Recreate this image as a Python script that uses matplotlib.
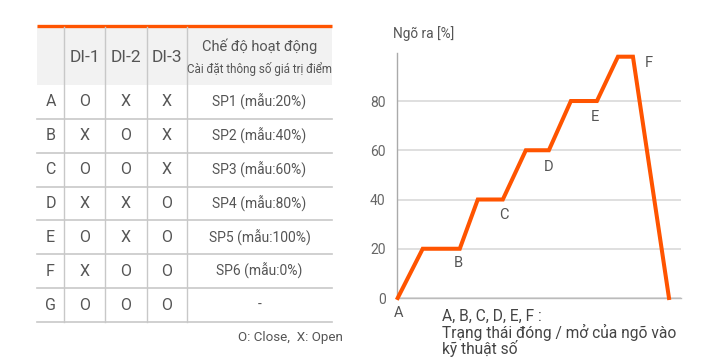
import matplotlib
matplotlib.use("Agg")
import matplotlib.pyplot as plt

plt.rcParams['font.family'] = ['Roboto', 'DejaVu Sans']

# --- table data ---
ROW_KEYS = ["A", "B", "C", "D", "E", "F", "G"]
DI1 = ["O", "X", "O", "X", "O", "X", "O"]
DI2 = ["X", "O", "O", "X", "X", "O", "O"]
DI3 = ["X", "X", "X", "O", "O", "O", "O"]
MODES = ["SP1 (mẫu:20%)", "SP2 (mẫu:40%)", "SP3 (mẫu:60%)", "SP4 (mẫu:80%)",
         "SP5 (mẫu:100%)", "SP6 (mẫu:0%)", "-"]
HEADERS = ["DI-1", "DI-2", "DI-3"]

# --- chart data (step profile) ---
T = [1, 26, 63, 81, 106, 129, 152, 174, 200, 221, 236, 272]
OUT = [0, 20, 20, 40, 40, 60, 60, 80, 80, 98, 98, 0]
Y_TICKS = [0, 20, 40, 60, 80]
PT_LABELS = ["A", "B", "C", "D", "E", "F"]
PT_IDX = [0, 2, 4, 6, 8, 10]

ORANGE = "#ff5400"
GRID = "#d9d9d9"
TXT = "#555555"

fig = plt.figure(figsize=(7.2, 3.6), dpi=100)

# ---------- table drawn in pixel coords ----------
tab = fig.add_axes([0, 0, 1, 1])
tab.set_xlim(0, 720)
tab.set_ylim(360, 0)
tab.axis("off")

x0, x1 = 37, 332
cols = [37, 64, 105, 147, 187, 332]
top, head_bot = 25.5, 85
row_h = (322 - head_bot) / len(ROW_KEYS)

tab.fill_between([x0, x1], top, head_bot, color="#f2f2f2", lw=0)
tab.plot([x0, x1], [top, top], color=ORANGE, lw=2.4, solid_capstyle="butt")
for cx in cols[1:5]:
    tab.plot([cx, cx], [top + 1, 322], color="#c8c8c8", lw=1.0)
for i in range(len(ROW_KEYS)):
    yb = head_bot + (i + 1) * row_h
    tab.plot([x0, x1], [yb, yb], color="#c8c8c8", lw=1.2)

centers = [(cols[j] + cols[j + 1]) / 2 for j in range(5)]
for j, h in enumerate(HEADERS):
    tab.text(centers[j + 1], 58, h, ha="center", va="center", fontsize=12.5, color=TXT)
tab.text(centers[4], 46, "Chế độ hoạt động", ha="center", va="center", fontsize=10.5, color=TXT)
tab.text(centers[4], 69, "Cài đặt thông số giá trị điểm", ha="center", va="center",
         fontsize=8.4, color=TXT)

for i, key in enumerate(ROW_KEYS):
    yc = head_bot + (i + 0.5) * row_h
    vals = [key, DI1[i], DI2[i], DI3[i], MODES[i]]
    for j, v in enumerate(vals):
        tab.text(centers[j], yc, v, ha="center", va="center",
                 fontsize=11.5 if j < 4 else 10, color=TXT)

tab.text(343, 338, "O: Close,  X: Open", ha="right", va="center", fontsize=9.6, color=TXT)

# ---------- step chart ----------
ax = fig.add_axes([396.7 / 720, (360 - 298) / 360, (681 - 396.7) / 720, (298 - 53) / 360])
ax.plot(T, OUT, color=ORANGE, lw=2.9, solid_joinstyle="miter", zorder=3, clip_on=False)
ax.set_xlim(0, 284)
ax.set_ylim(0, 99.5)
ax.set_yticks(Y_TICKS)
ax.set_xticks([])
ax.grid(axis="y", color=GRID, lw=1.2)
ax.tick_params(axis="y", length=0, labelsize=10, labelcolor="#666666", pad=8)
for s in ("top", "right"):
    ax.spines[s].set_visible(False)
ax.spines["left"].set_color("#aaaaaa")
ax.spines["bottom"].set_color("#bbbbbb")
ax.spines["left"].set_linewidth(1.0)
ax.spines["bottom"].set_linewidth(1.0)

# label offsets in pixels from the end of each plateau
offsets = [(1, -15), (-1, -14), (1, -15), (0, -17), (-2, -16), (16, -6)]
for lab, k, (dx, dy) in zip(PT_LABELS, PT_IDX, offsets):
    ax.annotate(lab, (T[k], OUT[k]), xytext=(dx * 0.72, dy * 0.72),
                textcoords="offset points", ha="center", va="center",
                fontsize=10.5, color=TXT, annotation_clip=False)

fig.text(393 / 720, 1 - 34 / 360, "Ngõ ra [%]", ha="left", va="center", fontsize=9.8, color=TXT)
fig.text(442 / 720, 1 - 333 / 360,
         "A, B, C, D, E, F :\nTrạng thái đóng / mở của ngõ vào\nkỹ thuật số",
         ha="left", va="center", fontsize=11.2, color="#444444", linespacing=0.95)

fig.savefig("out.png", dpi=100)
